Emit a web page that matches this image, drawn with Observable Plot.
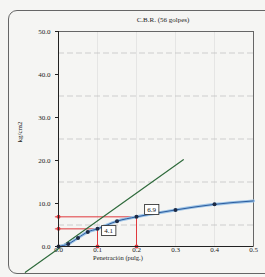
<!DOCTYPE html>
<html><head><meta charset="utf-8">
<script src="https://cdn.jsdelivr.net/npm/d3@7"></script>
<script src="https://cdn.jsdelivr.net/npm/@observablehq/plot@0.6"></script>
<style>
body{margin:0;background:#f5f5f3;width:265px;height:277px;overflow:hidden;position:relative;font-family:"Liberation Serif",serif;color:#222}
#box{position:absolute;left:8px;top:10px;width:290px;height:262px;border:1px solid #666;border-radius:9px}
#title{position:absolute;top:16px;left:113px;width:100px;text-align:center;font-size:7px}
#ylab{position:absolute;left:0px;top:128px;width:40px;text-align:center;font-size:7px;transform:rotate(-90deg)}
#xlab{position:absolute;left:78px;top:254px;width:80px;text-align:center;font-size:6.5px}
#chart{position:absolute;left:0;top:0}
</style></head><body>
<div id="box"></div>
<div id="title">C.B.R. (56 golpes)</div>
<div id="ylab">kg/cm2</div>
<div id="xlab">Penetración (pulg.)</div>
<div id="chart"></div>
<script>
// Load curve
const curveX = [0, 0.025, 0.05, 0.075, 0.1, 0.15, 0.2, 0.3, 0.4, 0.5];
const curveY = [0, 0.6, 2.0, 3.4, 4.1, 5.9, 6.9, 8.5, 9.8, 10.6];
const pointX = [0, 0.025, 0.05, 0.075, 0.1, 0.15, 0.2, 0.3, 0.4];
const pointY = [0, 0.6, 2.0, 3.4, 4.1, 5.9, 6.9, 8.5, 9.8];
// Tangent (initial slope) line
const tangentX = [-0.085, 0.32];
const tangentY = [-6.0, 20.2];
// C.B.R. readings
const cbrX = [0.1, 0.2];
const cbrY = [4.1, 6.9];
const cbrLabels = ["4.1", "6.9"];
// Ticks / grid
const xTicks = [0, 0.1, 0.2, 0.3, 0.4, 0.5];
const yTicks = [0, 10, 20, 30, 40, 50];
const gridY = [5, 15, 25, 35, 45];
const gridX = [0.1, 0.2, 0.3, 0.4];

const curve = curveX.map((x, i) => ({x, y: curveY[i]}));
const pts = pointX.map((x, i) => ({x, y: pointY[i]}));
const tangent = tangentX.map((x, i) => ({x, y: tangentY[i]}));
const cbr = cbrX.map((x, i) => ({x, y: cbrY[i], label: cbrLabels[i]}));

const chart = Plot.plot({
  width: 265, height: 277,
  marginLeft: 58, marginRight: 12, marginTop: 31, marginBottom: 31,
  style: {background: "transparent", fontFamily: "Liberation Serif, serif", fontSize: "7px", color: "#222"},
  x: {domain: [0, 0.5], ticks: xTicks, tickFormat: d => d.toFixed(1), tickSize: 0, tickPadding: 1, label: null},
  y: {domain: [0, 50], ticks: yTicks, tickFormat: d => d.toFixed(1), tickSize: 3, tickPadding: 5, label: null},
  marks: [
    Plot.ruleX(gridX, {stroke: "#d4d4d4", strokeWidth: 0.5}),
    Plot.ruleY(gridY, {stroke: "#bdbdbd", strokeWidth: 0.7, strokeDasharray: "6,3"}),
    Plot.frame({stroke: "#444", strokeWidth: 0.8}),
    Plot.ruleY(cbr, {y: "y", x1: -0.008, x2: "x", stroke: "#e0383c", strokeWidth: 1}),
    Plot.ruleX(cbr, {x: "x", y1: 0, y2: "y", stroke: "#e0383c", strokeWidth: 1}),
    Plot.dot(cbr, {x: 0, y: "y", r: 2, fill: "#e0383c"}),
    Plot.dot(cbr, {x: "x", y: 0, r: 2, fill: "#e0383c"}),
    Plot.line(tangent, {x: "x", y: "y", stroke: "#2f6b3c", strokeWidth: 1.2}),
    Plot.line(curve, {x: "x", y: "y", stroke: "#9cc3e6", strokeWidth: 3, curve: "monotone-x"}),
    Plot.line(curve, {x: "x", y: "y", stroke: "#2b5c9e", strokeWidth: 1, curve: "monotone-x"}),
    Plot.dot(pts, {x: "x", y: "y", r: 2, fill: "#1d2a44"}),
    Plot.ruleX([0], {stroke: "#222", strokeWidth: 1}),
    Plot.ruleY([0], {stroke: "#222", strokeWidth: 1}),
    Plot.text(cbr, {x: "x", y: "y", text: "label", className: "cbrlab", fontSize: 7, fill: "#111"})
  ]
});
document.getElementById("chart").appendChild(chart);

// offset labels and draw boxes behind them
const offsets = [[11, 1.5], [15, -7.5]];
const g = chart.querySelector("g.cbrlab") || chart.querySelector(".cbrlab");
if (g) {
  const texts = g.querySelectorAll("text");
  texts.forEach((t, i) => {
    const [ox, oy] = offsets[i];
    const cur = t.getAttribute("transform") || "";
    t.setAttribute("transform", cur + ` translate(${ox},${oy})`);
    const b = t.getBBox();
    const r = document.createElementNS("http://www.w3.org/2000/svg", "rect");
    r.setAttribute("x", b.x - 2.5); r.setAttribute("y", b.y - 1);
    r.setAttribute("width", b.width + 5); r.setAttribute("height", b.height + 2);
    r.setAttribute("fill", "#fff"); r.setAttribute("stroke", "#222"); r.setAttribute("stroke-width", "0.8");
    r.setAttribute("transform", t.getAttribute("transform"));
    g.insertBefore(r, t);
  });
}
</script>
</body></html>
